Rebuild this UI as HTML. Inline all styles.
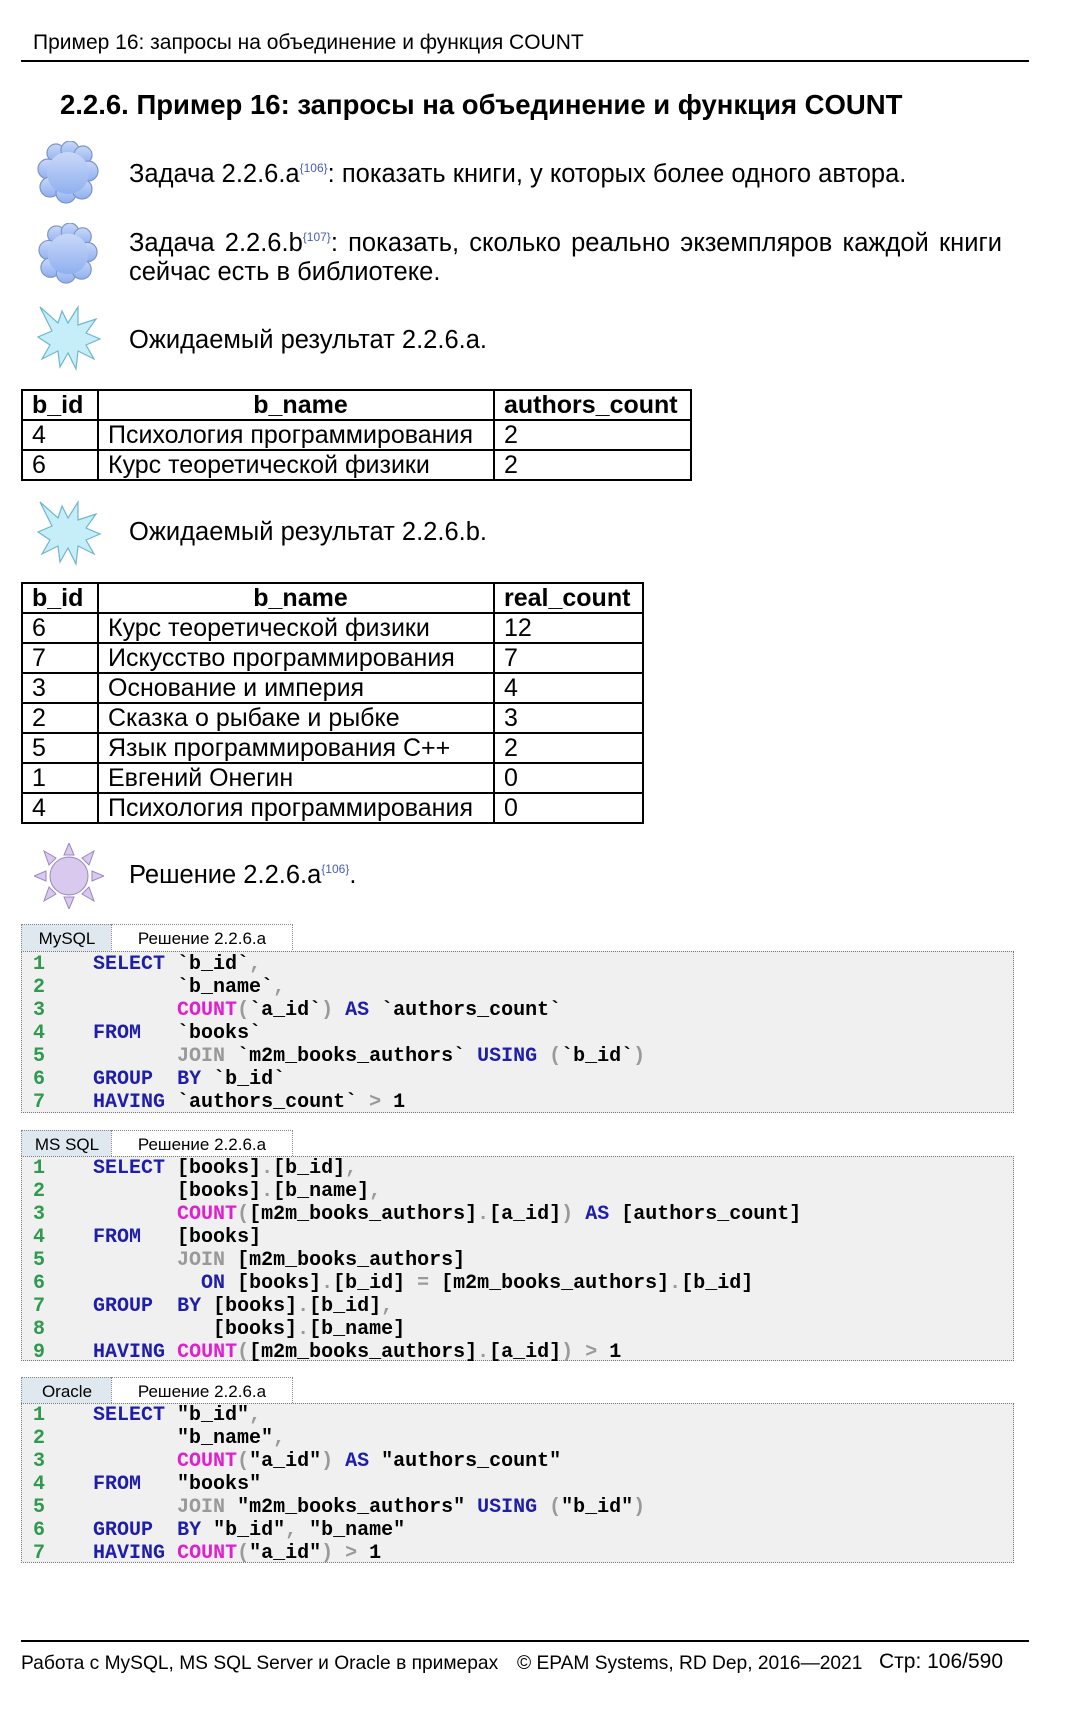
<!DOCTYPE html>
<html><head><meta charset="utf-8">
<style>
body{margin:0;width:1080px;height:1709px;background:#fff;position:relative;overflow:hidden;font-family:"Liberation Sans",Arial,sans-serif;color:#000}
.a{position:absolute;white-space:nowrap}
.t{font-size:25.5px}
sup{font-size:12px;color:#4a5db8;vertical-align:10px}
table{position:absolute;border-collapse:collapse;font-size:25px;table-layout:fixed}
td{border:2px solid #000;padding:0 0 0 9px;height:28px;line-height:28px;overflow:hidden;white-space:nowrap}
th{border:2px solid #000;height:28px;line-height:28px;font-weight:bold;padding:0 0 0 9px;text-align:left;white-space:nowrap}
.tab1{position:absolute;height:27px;background:#dfe8ef;border:1px dotted #888;border-bottom:none;font-size:17px;line-height:28px;text-align:center}
.tab2{position:absolute;height:27px;background:#fff;border:1px dotted #888;border-bottom:none;font-size:17px;line-height:28px;text-align:center}
.box{position:absolute;left:21px;width:991px;background:#f0f0f0;border:1px dotted #777}
.ln{position:absolute;height:23px;line-height:23px;font-family:"Liberation Mono","Courier New",monospace;font-weight:bold;font-size:20px;white-space:pre}
.n{color:#2e9a4e}
.k{color:#1e1eaa}
.c{color:#e020d0}
.g{color:#999}
</style></head><body>
<div class="a" style="left:33px;top:31px;font-size:21px">Пример 16: запросы на объединение и функция COUNT</div>
<div class="a" style="left:21px;top:60px;width:1008px;height:2px;background:#000"></div>
<div class="a" style="left:60px;top:89px;font-size:27.5px;font-weight:bold">2.2.6. Пример 16: запросы на объединение и функция COUNT</div>

<svg class="a" style="left:36px;top:141px" width="64" height="64" viewBox="0 0 64 64"><defs><linearGradient id="cg" x1="0" y1="0" x2="0" y2="1"><stop offset="0" stop-color="#c9d8f8"/><stop offset="1" stop-color="#8fb0ef"/></linearGradient></defs>
<g fill="url(#cg)" stroke="#7d94c8" stroke-width="1.2"><circle cx="20" cy="12" r="9"/><circle cx="34" cy="9" r="9"/><circle cx="47" cy="14" r="9"/><circle cx="12" cy="28" r="10"/><circle cx="52" cy="30" r="10"/><circle cx="14" cy="46" r="10"/><circle cx="30" cy="52" r="10"/><circle cx="46" cy="48" r="10"/></g><circle cx="32" cy="32" r="21" fill="url(#cg)"/></svg>
<svg class="a" style="left:36px;top:223px" width="64" height="62" viewBox="0 0 64 64"><g fill="url(#cg)" stroke="#7d94c8" stroke-width="1.2"><circle cx="20" cy="12" r="9"/><circle cx="34" cy="9" r="9"/><circle cx="47" cy="14" r="9"/><circle cx="12" cy="28" r="10"/><circle cx="52" cy="30" r="10"/><circle cx="14" cy="46" r="10"/><circle cx="30" cy="52" r="10"/><circle cx="46" cy="48" r="10"/></g><circle cx="32" cy="32" r="21" fill="url(#cg)"/></svg>

<div class="a t" style="left:129px;top:160px">Задача 2.2.6.a<sup>{106}</sup>: показать книги, у которых более одного автора.</div>
<div class="a t" style="left:129px;top:223px;width:873px;white-space:normal;text-align:justify;line-height:29px;text-align-last:left">Задача 2.2.6.b<sup>{107}</sup>: показать, сколько реально экземпляров каждой книги сейчас есть в библиотеке.</div>

<svg class="a" style="left:36px;top:305px" width="66" height="66" viewBox="0 0 66 66"><polygon points="4,2 22,18 26,6 32,18 42,2 42,20 60,14 50,28 64,34 50,40 58,54 42,46 40,64 32,48 24,62 22,46 6,54 14,40 2,32 16,26" fill="#c6eef8" stroke="#6fb6cc" stroke-width="1.2"/></svg>
<div class="a t" style="left:129px;top:326px">Ожидаемый результат 2.2.6.a.</div>

<table style="left:21px;top:389px;width:671px">
<colgroup><col style="width:76px"><col style="width:396px"><col></colgroup>
<tr><th>b_id</th><th style="text-align:center">b_name</th><th>authors_count</th></tr>
<tr><td>4</td><td>Психология программирования</td><td>2</td></tr>
<tr><td>6</td><td>Курс теоретической физики</td><td>2</td></tr>
</table>

<svg class="a" style="left:36px;top:500px" width="66" height="66" viewBox="0 0 66 66"><polygon points="4,2 22,18 26,6 32,18 42,2 42,20 60,14 50,28 64,34 50,40 58,54 42,46 40,64 32,48 24,62 22,46 6,54 14,40 2,32 16,26" fill="#c6eef8" stroke="#6fb6cc" stroke-width="1.2"/></svg>
<div class="a t" style="left:129px;top:518px">Ожидаемый результат 2.2.6.b.</div>

<table style="left:21px;top:582px;width:623px">
<colgroup><col style="width:76px"><col style="width:396px"><col></colgroup>
<tr><th>b_id</th><th style="text-align:center">b_name</th><th>real_count</th></tr>
<tr><td>6</td><td>Курс теоретической физики</td><td>12</td></tr>
<tr><td>7</td><td>Искусство программирования</td><td>7</td></tr>
<tr><td>3</td><td>Основание и империя</td><td>4</td></tr>
<tr><td>2</td><td>Сказка о рыбаке и рыбке</td><td>3</td></tr>
<tr><td>5</td><td>Язык программирования C++</td><td>2</td></tr>
<tr><td>1</td><td>Евгений Онегин</td><td>0</td></tr>
<tr><td>4</td><td>Психология программирования</td><td>0</td></tr>
</table>

<svg class="a" style="left:34px;top:843px" width="70" height="66" viewBox="0 0 70 66"><g fill="#d9c9ef" stroke="#9a86c0" stroke-width="1"><polygon points="35,0 30,12 40,12"/><polygon points="35,66 30,54 40,54"/><polygon points="0,33 12,28 12,38"/><polygon points="70,33 58,28 58,38"/><polygon points="10,8 22,15 15,22"/><polygon points="60,8 48,15 55,22"/><polygon points="10,58 22,51 15,44"/><polygon points="60,58 48,51 55,44"/><circle cx="35" cy="33" r="19"/></g></svg>
<div class="a t" style="left:129px;top:861px">Решение 2.2.6.a<sup>{106}</sup>.</div>

<!-- MySQL -->
<div class="tab1" style="left:21px;top:924px;width:90px">MySQL</div>
<div class="tab2" style="left:111px;top:924px;width:180px">Решение 2.2.6.a</div>
<div class="box" style="top:951px;height:160px"></div>
<div class="ln" style="left:33px;top:953px"><span class="n">1</span>    <span class="k">SELECT</span> `b_id`<span class="g">,</span>
<span class="n">2</span>           `b_name`<span class="g">,</span>
<span class="n">3</span>           <span class="c">COUNT</span><span class="g">(</span>`a_id`<span class="g">)</span> <span class="k">AS</span> `authors_count`
<span class="n">4</span>    <span class="k">FROM</span>   `books`
<span class="n">5</span>           <span class="g">JOIN</span> `m2m_books_authors` <span class="k">USING</span> <span class="g">(</span>`b_id`<span class="g">)</span>
<span class="n">6</span>    <span class="k">GROUP</span>  <span class="k">BY</span> `b_id`
<span class="n">7</span>    <span class="k">HAVING</span> `authors_count` <span class="g">&gt;</span> 1</div>

<!-- MS SQL -->
<div class="tab1" style="left:21px;top:1130px;width:90px">MS SQL</div>
<div class="tab2" style="left:111px;top:1130px;width:180px">Решение 2.2.6.a</div>
<div class="box" style="top:1156px;height:203px"></div>
<div class="ln" style="left:33px;top:1157px"><span class="n">1</span>    <span class="k">SELECT</span> [books]<span class="g">.</span>[b_id]<span class="g">,</span>
<span class="n">2</span>           [books]<span class="g">.</span>[b_name]<span class="g">,</span>
<span class="n">3</span>           <span class="c">COUNT</span><span class="g">(</span>[m2m_books_authors]<span class="g">.</span>[a_id]<span class="g">)</span> <span class="k">AS</span> [authors_count]
<span class="n">4</span>    <span class="k">FROM</span>   [books]
<span class="n">5</span>           <span class="g">JOIN</span> [m2m_books_authors]
<span class="n">6</span>             <span class="k">ON</span> [books]<span class="g">.</span>[b_id] <span class="g">=</span> [m2m_books_authors]<span class="g">.</span>[b_id]
<span class="n">7</span>    <span class="k">GROUP</span>  <span class="k">BY</span> [books]<span class="g">.</span>[b_id]<span class="g">,</span>
<span class="n">8</span>              [books]<span class="g">.</span>[b_name]
<span class="n">9</span>    <span class="k">HAVING</span> <span class="c">COUNT</span><span class="g">(</span>[m2m_books_authors]<span class="g">.</span>[a_id]<span class="g">)</span> <span class="g">&gt;</span> 1</div>

<!-- Oracle -->
<div class="tab1" style="left:21px;top:1377px;width:90px">Oracle</div>
<div class="tab2" style="left:111px;top:1377px;width:180px">Решение 2.2.6.a</div>
<div class="box" style="top:1403px;height:158px"></div>
<div class="ln" style="left:33px;top:1404px"><span class="n">1</span>    <span class="k">SELECT</span> "b_id"<span class="g">,</span>
<span class="n">2</span>           "b_name"<span class="g">,</span>
<span class="n">3</span>           <span class="c">COUNT</span><span class="g">(</span>"a_id"<span class="g">)</span> <span class="k">AS</span> "authors_count"
<span class="n">4</span>    <span class="k">FROM</span>   "books"
<span class="n">5</span>           <span class="g">JOIN</span> "m2m_books_authors" <span class="k">USING</span> <span class="g">(</span>"b_id"<span class="g">)</span>
<span class="n">6</span>    <span class="k">GROUP</span>  <span class="k">BY</span> "b_id"<span class="g">,</span> "b_name"
<span class="n">7</span>    <span class="k">HAVING</span> <span class="c">COUNT</span><span class="g">(</span>"a_id"<span class="g">)</span> <span class="g">&gt;</span> 1</div>

<div class="a" style="left:21px;top:1640px;width:1008px;height:2px;background:#000"></div>
<div class="a" style="left:21px;top:1653px;font-size:19.2px">Работа с MySQL, MS SQL Server и Oracle в примерах</div>
<div class="a" style="left:517px;top:1653px;font-size:19.2px">© EPAM Systems, RD Dep, 2016—2021</div>
<div class="a" style="left:879px;top:1650px;font-size:21px">Стр: 106/590</div>
</body></html>
